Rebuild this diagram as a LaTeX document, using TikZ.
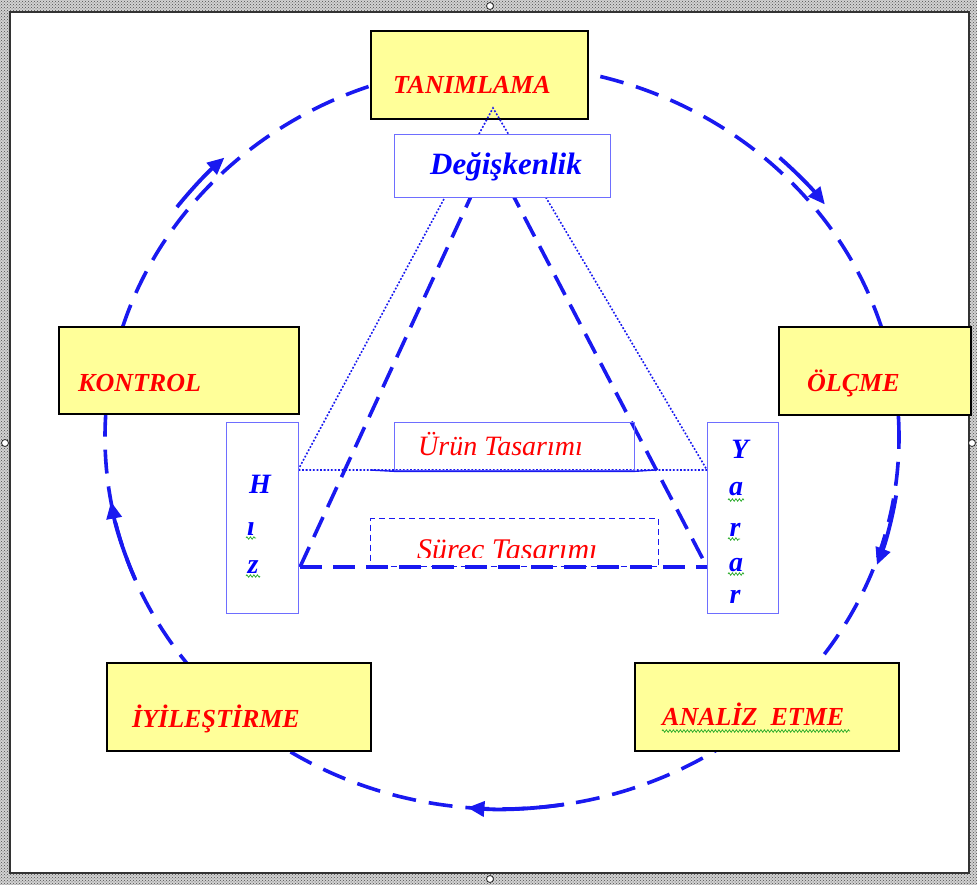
\documentclass[tikz,border=0pt]{standalone}
\usepackage{fontspec}
\setmainfont{Liberation Serif}
\usetikzlibrary{arrows.meta,patterns,decorations.pathmorphing,calc}

\definecolor{lineblue}{RGB}{25,25,240}
\definecolor{boxblue}{RGB}{110,110,255}
\definecolor{paleyellow}{RGB}{255,255,153}
\definecolor{labelred}{RGB}{255,0,0}
\definecolor{spellgreen}{RGB}{40,170,40}

\tikzset{
  stage/.style={draw=black, line width=2pt, fill=paleyellow, inner sep=0pt, anchor=north west},
  plainbox/.style={draw=boxblue, line width=1.3pt, fill=white, inner sep=0pt, anchor=north west},
  stagetext/.style={anchor=base west, inner sep=0pt, text=labelred,
    font=\fontsize{26}{30}\selectfont\bfseries\itshape},
  designtext/.style={anchor=base west, inner sep=0pt, text=labelred,
    font=\fontsize{28}{32}\selectfont\itshape},
  letter/.style={anchor=base, inner sep=0pt, text=blue,
    font=\fontsize{28}{32}\selectfont\bfseries\itshape},
  cycleline/.style={draw=lineblue, line width=3.6pt, dash pattern=on 24pt off 13pt},
  flow/.style={draw=lineblue, line width=3.8pt, -{Triangle[length=17pt,width=15pt]}},
  triline/.style={draw=lineblue, line width=3.6pt, dash pattern=on 22pt off 11pt},
  dotline/.style={draw=lineblue, line width=1.6pt, dash pattern=on 1.8pt off 1.8pt},
  wavy/.style={draw=spellgreen, line width=0.7pt, decorate,
    decoration={zigzag, amplitude=1.3pt, segment length=3.5pt}},
}

\begin{document}
\begin{tikzpicture}[x=1pt, y=1pt]
  \useasboundingbox (0,0) rectangle (977,-885);
  \fill[white] (0,0) rectangle (977,-885);

  % selection frame around the drawing
  \fill[gray!35, even odd rule] (0,0) rectangle (977,-885) (10,-12) rectangle (969,-873);
  \fill[pattern=crosshatch dots, pattern color=gray!60!black, even odd rule]
    (0,0) rectangle (977,-885) (10,-12) rectangle (969,-873);
  \draw[gray!40!black, line width=1.5pt] (10,-12) rectangle (969,-873);
  \foreach \p in {(490,-6),(490,-879),(5,-443),(972,-443)}
    \draw[fill=white, draw=gray!30!black, line width=0.8pt] \p circle (3.5pt);

  % the improvement cycle
  \coordinate (C) at (502,-437);
  \draw[cycleline] (C) ellipse [x radius=397pt, y radius=372pt];

  \draw[flow] ([shift={(143:407pt and 382pt)}]C)
    arc[start angle=143, end angle=133, x radius=407pt, y radius=382pt];
  \draw[flow] ([shift={(47:407pt and 382pt)}]C)
    arc[start angle=47, end angle=37.5, x radius=407pt, y radius=382pt];
  \draw[flow] ([shift={(-9:399pt and 374pt)}]C)
    arc[start angle=-9, end angle=-20, x radius=399pt, y radius=374pt];
  \draw[flow] ([shift={(-81:397pt and 372pt)}]C)
    arc[start angle=-81, end angle=-95, x radius=397pt, y radius=372pt];
  \draw[flow] ([shift={(202.5:397pt and 372pt)}]C)
    arc[start angle=202.5, end angle=190, x radius=397pt, y radius=372pt];

  % stages on the cycle
  \node[stage, minimum width=217pt, minimum height=88pt] (tan) at (370,-30) {};
  \node[stage, minimum width=240pt, minimum height=87pt] (kon) at (58,-326) {};
  \node[stage, minimum width=192pt, minimum height=88pt] (olc) at (778,-326) {};
  \node[stage, minimum width=264pt, minimum height=88pt] (iyi) at (106,-662) {};
  \node[stage, minimum width=264pt, minimum height=88pt] (ana) at (634,-662) {};

  \node[stagetext] (tanT) at (393,-94) {TANIMLAMA};
  \node[stagetext] (konT) at (78,-391) {KONTROL};
  \node[stagetext] (olcT) at (807,-391) {ÖLÇME};
  \node[stagetext] (iyiT) at (132,-727) {İYİLEŞTİRME};
  \node[stagetext] (anaT) at (662,-725) {ANALİZ\ \ ETME};
  \draw[wavy] (662,-731) -- (850,-731);

  % dotted triangle
  \coordinate (dA) at (493,-108);
  \coordinate (dL) at (298,-470);
  \coordinate (dR) at (707,-470);
  \draw[dotline] (dL) -- (dA) -- (dR) -- cycle;

  % dashed triangle, legs
  \coordinate (tA) at (491,-153);
  \coordinate (tL) at (300,-567);
  \coordinate (tR) at (707,-567);
  \draw[triline] (tL) -- (tA) -- (tR);

  % variability box at the apex
  \node[plainbox, minimum width=216pt, minimum height=63pt] (deg) at (394,-134) {};
  \node[anchor=base west, inner sep=0pt, text=blue,
        font=\fontsize{31}{36}\selectfont\bfseries\itshape] (degT) at (430,-175) {Değişkenlik};

  % speed and benefit columns
  \node[plainbox, minimum width=72pt, minimum height=191pt] (hiz) at (226,-422) {};
  \node[plainbox, minimum width=71pt, minimum height=191pt] (yar) at (707,-422) {};

  \node[letter] (h1) at (260,-493) {H};
  \node[letter] (h2) at (251,-535) {ı};
  \node[letter] (h3) at (253,-573) {z};
  \draw[wavy] (246,-538) -- (256,-538);
  \draw[wavy] (246,-576) -- (260,-576);

  \node[letter] (y1) at (740,-458) {Y};
  \node[letter] (y2) at (736,-495) {a};
  \node[letter] (y3) at (735,-536) {r};
  \node[letter] (y4) at (736,-571) {a};
  \node[letter] (y5) at (735,-603) {r};
  \draw[wavy] (728,-500) -- (744,-500);
  \draw[wavy] (728,-539) -- (740,-539);
  \draw[wavy] (728,-574) -- (744,-574);

  % product design
  \node[plainbox, fill=none, minimum width=240pt, minimum height=48pt] (urun) at (394,-422) {};
  \draw[draw=lineblue, line width=1.4pt] (370,-470) -- (urun.south west) -- (urun.south east) -- (655,-470);
  \node[designtext] (urunT) at (418,-455) {Ürün Tasarımı};

  % process design, closed below by the dashed base of the triangle
  \node[draw=lineblue, line width=1.4pt, dash pattern=on 6pt off 4pt, fill=white,
        inner sep=0pt, anchor=north west, minimum width=288pt, minimum height=48pt] (surec) at (370,-518) {};
  \begin{scope}
    \clip (372,-520) rectangle (656,-557);
    \node[designtext, font=\fontsize{30}{34}\selectfont\itshape] (surecT) at (417,-559) {Süreç Tasarımı};
  \end{scope}
  \draw[triline] (tL) -- (tR);
\end{tikzpicture}
\end{document}
